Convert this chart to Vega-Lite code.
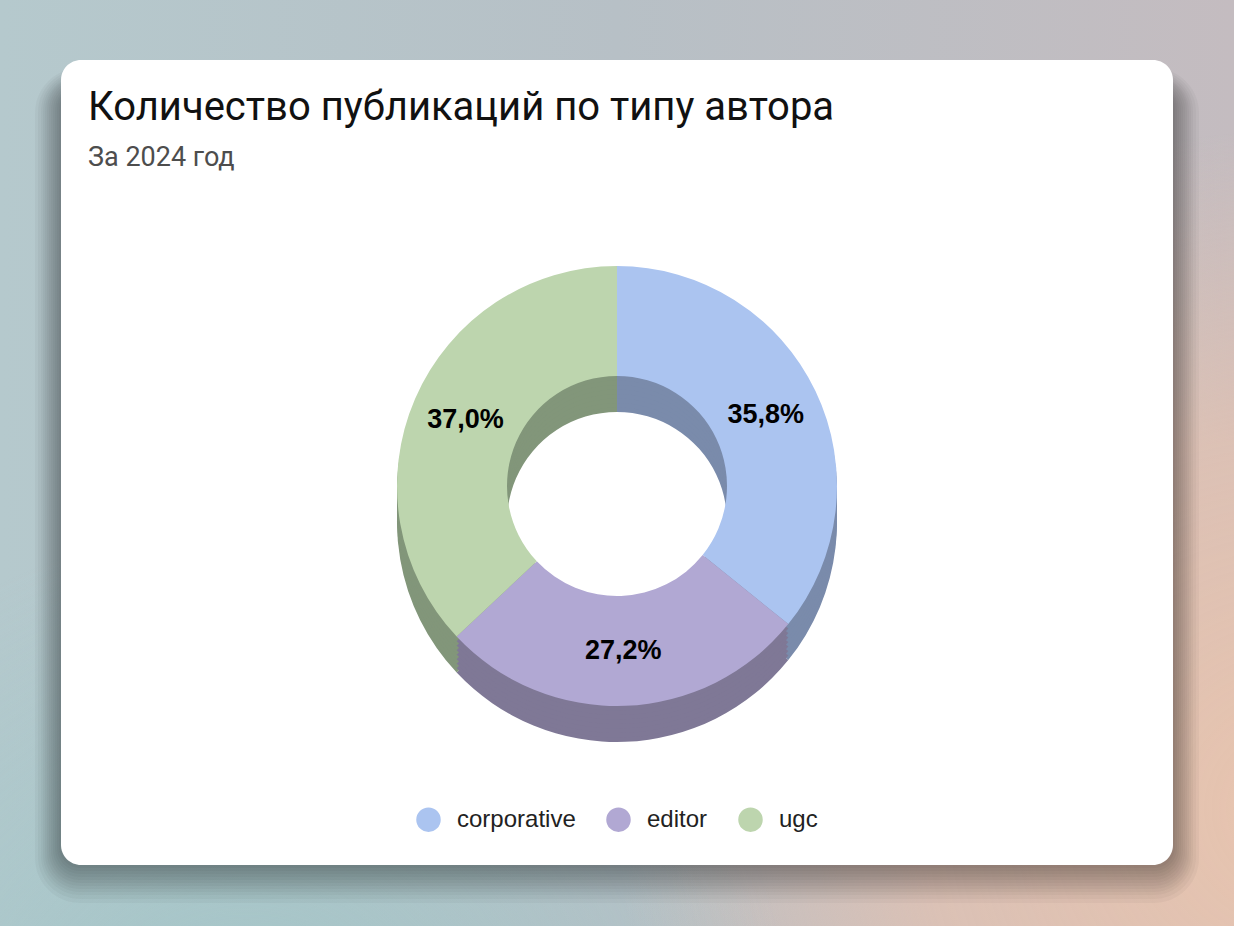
{
  "$schema": "https://vega.github.io/schema/vega-lite/v6.json",
  "width": 1234,
  "height": 926,
  "padding": 0,
  "autosize": {"type": "none"},
  "title": {
    "text": "Количество публикаций по типу автора",
    "subtitle": "За 2024 год",
    "orient": "top",
    "anchor": "start",
    "frame": "group",
    "offset": -171,
    "dx": 88,
    "font": "Roboto",
    "fontSize": 40,
    "fontWeight": "normal",
    "color": "#111111",
    "subtitleFont": "Roboto",
    "subtitleFontSize": 27,
    "subtitleColor": "#4d4d4d",
    "subtitlePadding": 17
  },
  "config": {
    "view": {"stroke": null},
    "locale": {
      "number": {"decimal": ",", "thousands": " ", "grouping": [3], "currency": ["", " ₽"]}
    }
  },
  "data": {
    "values": [
      {"type": "corporative", "share": 0.358},
      {"type": "editor", "share": 0.272},
      {"type": "ugc", "share": 0.370}
    ]
  },
  "layer": [
    {
      "data": {"values": [{}]},
      "mark": {"type": "rect", "fill": {"gradient": "linear", "x1": 0, "y1": 0, "x2": 1, "y2": 0, "stops": [
        {"offset": 0, "color": "#b5c9cd"},
        {"offset": 0.5, "color": "#b7c0c6"},
        {"offset": 1, "color": "#c4bcc0"}
      ]}},
      "encoding": {"x": {"value": 0}, "x2": {"value": "width"}, "y": {"value": 0}, "y2": {"value": "height"}}
    },
    {
      "data": {"values": [{}]},
      "mark": {"type": "rect", "fill": {"gradient": "radial", "x1": 1.05, "y1": 0.78, "r1": 0, "x2": 1.05, "y2": 0.78, "r2": 0.55, "stops": [
        {"offset": 0, "color": "rgba(232,196,174,1)"},
        {"offset": 0.55, "color": "rgba(226,194,178,0.8)"},
        {"offset": 1, "color": "rgba(226,194,178,0)"}
      ]}},
      "encoding": {"x": {"value": 0}, "x2": {"value": "width"}, "y": {"value": 0}, "y2": {"value": "height"}}
    },
    {
      "data": {"values": [{}]},
      "mark": {"type": "rect", "fill": {"gradient": "radial", "x1": 0.2, "y1": 1.0, "r1": 0, "x2": 0.2, "y2": 1.0, "r2": 0.45, "stops": [
        {"offset": 0, "color": "rgba(160,198,200,0.9)"},
        {"offset": 1, "color": "rgba(160,198,200,0)"}
      ]}},
      "encoding": {"x": {"value": 0}, "x2": {"value": "width"}, "y": {"value": 0}, "y2": {"value": "height"}}
    },
    {"data": {"values": [{}]}, "mark": {"type": "rect", "fill": "#000000", "opacity": 0.032, "cornerRadius": 45},
      "encoding": {"x": {"value": 35}, "x2": {"value": 1199}, "y": {"value": 68}, "y2": {"value": 903}}},
    {"data": {"values": [{}]}, "mark": {"type": "rect", "fill": "#000000", "opacity": 0.032, "cornerRadius": 42},
      "encoding": {"x": {"value": 38}, "x2": {"value": 1196}, "y": {"value": 70}, "y2": {"value": 899}}},
    {"data": {"values": [{}]}, "mark": {"type": "rect", "fill": "#000000", "opacity": 0.032, "cornerRadius": 39},
      "encoding": {"x": {"value": 41}, "x2": {"value": 1193}, "y": {"value": 72}, "y2": {"value": 895}}},
    {"data": {"values": [{}]}, "mark": {"type": "rect", "fill": "#000000", "opacity": 0.032, "cornerRadius": 37},
      "encoding": {"x": {"value": 43}, "x2": {"value": 1191}, "y": {"value": 74}, "y2": {"value": 892}}},
    {"data": {"values": [{}]}, "mark": {"type": "rect", "fill": "#000000", "opacity": 0.032, "cornerRadius": 35},
      "encoding": {"x": {"value": 45}, "x2": {"value": 1189}, "y": {"value": 76}, "y2": {"value": 889}}},
    {"data": {"values": [{}]}, "mark": {"type": "rect", "fill": "#000000", "opacity": 0.032, "cornerRadius": 33},
      "encoding": {"x": {"value": 47}, "x2": {"value": 1187}, "y": {"value": 77}, "y2": {"value": 886}}},
    {"data": {"values": [{}]}, "mark": {"type": "rect", "fill": "#000000", "opacity": 0.032, "cornerRadius": 31},
      "encoding": {"x": {"value": 49}, "x2": {"value": 1185}, "y": {"value": 79}, "y2": {"value": 883}}},
    {"data": {"values": [{}]}, "mark": {"type": "rect", "fill": "#000000", "opacity": 0.032, "cornerRadius": 29},
      "encoding": {"x": {"value": 51}, "x2": {"value": 1183}, "y": {"value": 81}, "y2": {"value": 880}}},
    {"data": {"values": [{}]}, "mark": {"type": "rect", "fill": "#000000", "opacity": 0.032, "cornerRadius": 27},
      "encoding": {"x": {"value": 53}, "x2": {"value": 1181}, "y": {"value": 83}, "y2": {"value": 877}}},
    {"data": {"values": [{}]}, "mark": {"type": "rect", "fill": "#000000", "opacity": 0.032, "cornerRadius": 25},
      "encoding": {"x": {"value": 55}, "x2": {"value": 1179}, "y": {"value": 85}, "y2": {"value": 874}}},
    {"data": {"values": [{}]}, "mark": {"type": "rect", "fill": "#000000", "opacity": 0.032, "cornerRadius": 23},
      "encoding": {"x": {"value": 57}, "x2": {"value": 1177}, "y": {"value": 86}, "y2": {"value": 871}}},
    {"data": {"values": [{}]}, "mark": {"type": "rect", "fill": "#000000", "opacity": 0.032, "cornerRadius": 21},
      "encoding": {"x": {"value": 59}, "x2": {"value": 1175}, "y": {"value": 88}, "y2": {"value": 868}}},
    {
      "data": {"values": [{}]},
      "mark": {"type": "rect", "fill": "#ffffff", "cornerRadius": 20},
      "encoding": {"x": {"value": 61}, "x2": {"value": 1173}, "y": {"value": 60}, "y2": {"value": 865}}
    },
    {
      "mark": {"type": "arc", "outerRadius": 220, "innerRadius": 110, "yOffset": 59},
      "encoding": {
        "theta": {"field": "share", "type": "quantitative", "stack": true},
        "fill": {"field": "type", "type": "nominal", "legend": null, "scale": {"range": ["#7a8bab", "#7f7896", "#82967a"]}},
        "order": {"field": "type"}
      }
    },
    {
      "mark": {"type": "arc", "outerRadius": 220, "innerRadius": 110, "yOffset": 54.5},
      "encoding": {
        "theta": {"field": "share", "type": "quantitative", "stack": true},
        "fill": {"field": "type", "type": "nominal", "legend": null},
        "order": {"field": "type"}
      }
    },
    {
      "mark": {"type": "arc", "outerRadius": 220, "innerRadius": 110, "yOffset": 50},
      "encoding": {
        "theta": {"field": "share", "type": "quantitative", "stack": true},
        "fill": {"field": "type", "type": "nominal", "legend": null},
        "order": {"field": "type"}
      }
    },
    {
      "mark": {"type": "arc", "outerRadius": 220, "innerRadius": 110, "yOffset": 45.5},
      "encoding": {
        "theta": {"field": "share", "type": "quantitative", "stack": true},
        "fill": {"field": "type", "type": "nominal", "legend": null},
        "order": {"field": "type"}
      }
    },
    {
      "mark": {"type": "arc", "outerRadius": 220, "innerRadius": 110, "yOffset": 41},
      "encoding": {
        "theta": {"field": "share", "type": "quantitative", "stack": true},
        "fill": {"field": "type", "type": "nominal", "legend": null},
        "order": {"field": "type"}
      }
    },
    {
      "mark": {"type": "arc", "outerRadius": 220, "innerRadius": 110, "yOffset": 36.5},
      "encoding": {
        "theta": {"field": "share", "type": "quantitative", "stack": true},
        "fill": {"field": "type", "type": "nominal", "legend": null},
        "order": {"field": "type"}
      }
    },
    {
      "mark": {"type": "arc", "outerRadius": 220, "innerRadius": 110, "yOffset": 32},
      "encoding": {
        "theta": {"field": "share", "type": "quantitative", "stack": true},
        "fill": {"field": "type", "type": "nominal", "legend": null},
        "order": {"field": "type"}
      }
    },
    {
      "mark": {"type": "arc", "outerRadius": 220, "innerRadius": 110, "yOffset": 27.5},
      "encoding": {
        "theta": {"field": "share", "type": "quantitative", "stack": true},
        "fill": {"field": "type", "type": "nominal", "legend": null},
        "order": {"field": "type"}
      }
    },
    {
      "mark": {"type": "arc", "outerRadius": 220, "innerRadius": 110, "yOffset": 23},
      "encoding": {
        "theta": {"field": "share", "type": "quantitative", "stack": true},
        "color": {
          "field": "type",
          "type": "nominal",
          "scale": {"domain": ["corporative", "editor", "ugc"], "range": ["#abc4f0", "#b1a8d3", "#bdd5ae"]},
          "legend": {
            "orient": "none",
            "legendX": 416,
            "legendY": 807,
            "direction": "horizontal",
            "title": null,
            "symbolType": "circle",
            "symbolSize": 600,
            "symbolStrokeWidth": 0,
            "symbolOpacity": 1,
            "labelFont": "Liberation Sans",
            "labelFontSize": 24,
            "labelColor": "#222222",
            "labelOffset": 16,
            "columnPadding": 30,
            "padding": 0
          }
        },
        "order": {"field": "type"}
      }
    },
    {
      "mark": {"type": "text", "radius": 165, "yOffset": 23, "font": "Liberation Sans", "fontSize": 27, "fontWeight": "bold", "fill": "#000000"},
      "encoding": {
        "theta": {"field": "share", "type": "quantitative", "stack": true},
        "detail": {"field": "type"},
        "order": {"field": "type"},
        "text": {"field": "share", "type": "quantitative", "format": ".1%"}
      }
    }
  ]
}
